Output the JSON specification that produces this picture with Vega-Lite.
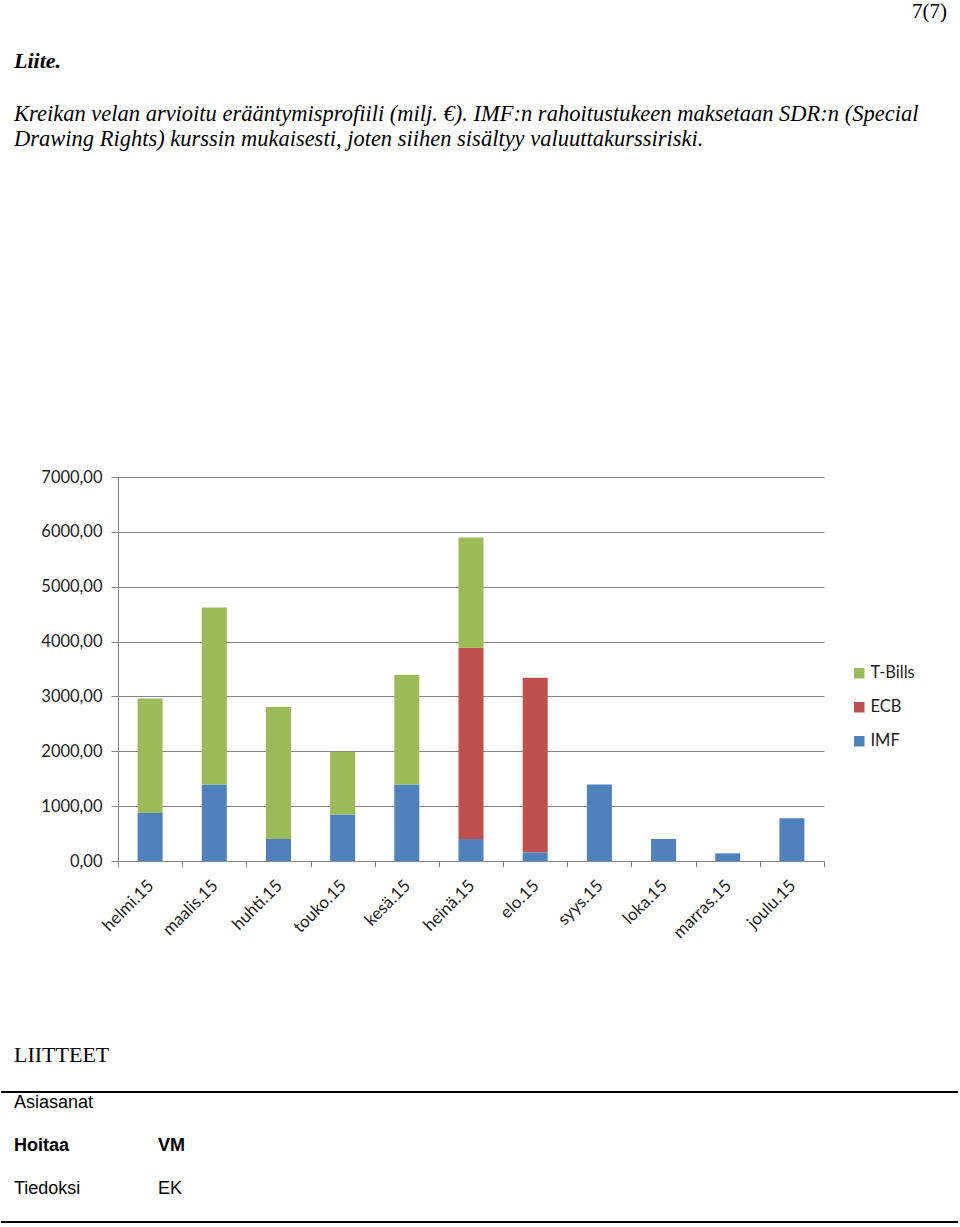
{
  "$schema": "https://vega.github.io/schema/vega-lite/v6.json",
  "padding": 0,
  "background": "white",
  "title": {"text": "7(7)", "anchor": "end", "frame": "bounds", "font": "Liberation Serif", "fontSize": 21, "fontWeight": "normal", "color": "black", "offset": 28, "dx": -12},
  "datasets": {
    "debt": [
      {"month": "helmi.15", "source": "IMF", "amount": 876},
      {"month": "helmi.15", "source": "T-Bills", "amount": 2088},
      {"month": "maalis.15", "source": "IMF", "amount": 1394},
      {"month": "maalis.15", "source": "T-Bills", "amount": 3226},
      {"month": "huhti.15", "source": "IMF", "amount": 402},
      {"month": "huhti.15", "source": "T-Bills", "amount": 2404},
      {"month": "touko.15", "source": "IMF", "amount": 846},
      {"month": "touko.15", "source": "T-Bills", "amount": 1144},
      {"month": "kesä.15", "source": "IMF", "amount": 1394},
      {"month": "kesä.15", "source": "T-Bills", "amount": 1996},
      {"month": "heinä.15", "source": "IMF", "amount": 402},
      {"month": "heinä.15", "source": "ECB", "amount": 3487},
      {"month": "heinä.15", "source": "T-Bills", "amount": 2009},
      {"month": "elo.15", "source": "IMF", "amount": 158},
      {"month": "elo.15", "source": "ECB", "amount": 3183},
      {"month": "syys.15", "source": "IMF", "amount": 1394},
      {"month": "loka.15", "source": "IMF", "amount": 402},
      {"month": "marras.15", "source": "IMF", "amount": 140},
      {"month": "joulu.15", "source": "IMF", "amount": 779}
    ],
    "footer": [
      {"row": "Asiasanat", "col": "label", "text": "Asiasanat"},
      {"row": "Hoitaa", "col": "label", "text": "Hoitaa"},
      {"row": "Hoitaa", "col": "value", "text": "VM"},
      {"row": "Tiedoksi", "col": "label", "text": "Tiedoksi"},
      {"row": "Tiedoksi", "col": "value", "text": "EK"}
    ],
    "lines": [
      {"line": "top"},
      {"line": "bottom"}
    ]
  },
  "spacing": 103,
  "vconcat": [
    {
      "width": 706,
      "height": 384,
      "title": {
        "text": "Liite.",
        "subtitle": [
          "Kreikan velan arvioitu erääntymisprofiili (milj. €). IMF:n rahoitustukeen maksetaan SDR:n (Special",
          "Drawing Rights) kurssin mukaisesti, joten siihen sisältyy valuuttakurssiriski."
        ],
        "anchor": "start",
        "frame": "group",
        "dx": -104,
        "font": "Liberation Serif",
        "fontSize": 22,
        "fontStyle": "italic",
        "fontWeight": "bold",
        "color": "black",
        "subtitleFont": "Liberation Serif",
        "subtitleFontSize": 22.5,
        "subtitleFontStyle": "italic",
        "subtitleFontWeight": "normal",
        "subtitleColor": "black",
        "subtitlePadding": 30,
        "subtitleLineHeight": 25,
        "offset": 318
      },
      "data": {"name": "debt"},
      "transform": [
        {"calculate": "indexof(['IMF','ECB','T-Bills'], datum.source)", "as": "stackOrder"}
      ],
      "mark": {"type": "bar", "width": {"band": 0.39}},
      "encoding": {
        "x": {
          "field": "month",
          "type": "nominal",
          "sort": null,
          "scale": {"paddingInner": 0, "paddingOuter": 0},
          "axis": {
            "title": null,
            "labelAngle": -45,
            "labelFont": "Lato",
            "labelFontSize": 17,
            "labelColor": "#222",
            "labelPadding": 10,
            "labelOffset": -5,
            "tickBand": "extent",
            "tickSize": 6,
            "tickColor": "#868686",
            "domainColor": "#868686",
            "grid": false
          }
        },
        "y": {
          "field": "amount",
          "type": "quantitative",
          "stack": "zero",
          "scale": {"domain": [0, 7000], "nice": false},
          "axis": {
            "title": null,
            "values": [0, 1000, 2000, 3000, 4000, 5000, 6000, 7000],
            "labelExpr": "replace(format(datum.value, '.2f'), '.', ',')",
            "labelFont": "Lato",
            "labelFontSize": 16.5,
            "labelColor": "#222",
            "labelPadding": 9,
            "tickSize": 7,
            "tickColor": "#868686",
            "domainColor": "#868686",
            "gridColor": "#868686",
            "gridOpacity": 1,
            "minExtent": 117
          }
        },
        "color": {
          "field": "source",
          "type": "nominal",
          "scale": {"domain": ["T-Bills", "ECB", "IMF"], "range": ["#9BBB59", "#C0504D", "#4F81BD"]},
          "legend": {
            "orient": "none",
            "legendX": 733,
            "legendY": 188,
            "title": null,
            "symbolType": "square",
            "symbolSize": 110,
            "symbolStrokeWidth": 0,
            "labelFont": "Lato",
            "labelFontSize": 16.5,
            "labelColor": "#222",
            "rowPadding": 17,
            "labelOffset": 3
          }
        },
        "order": {"field": "stackOrder", "type": "quantitative"}
      }
    },
    {
      "width": 840,
      "height": 130,
      "title": {
        "text": "LIITTEET",
        "anchor": "start",
        "frame": "group",
        "dx": -104,
        "font": "Liberation Serif",
        "fontSize": 22,
        "fontWeight": "normal",
        "color": "black",
        "offset": 24
      },
      "layer": [
        {
          "data": {"name": "footer"},
          "transform": [{"filter": "datum.row !== 'Hoitaa'"}],
          "mark": {"type": "text", "align": "left", "baseline": "middle", "font": "Liberation Sans", "fontSize": 18, "color": "black"},
          "encoding": {
            "x": {"field": "col", "type": "nominal", "scale": {"type": "point", "domain": ["label", "value"], "range": [-104, 40], "padding": 0}, "axis": null},
            "y": {"field": "row", "type": "nominal", "scale": {"type": "point", "domain": ["Asiasanat", "Hoitaa", "Tiedoksi"], "range": [11, 97], "padding": 0}, "axis": null},
            "text": {"field": "text"}
          }
        },
        {
          "data": {"name": "footer"},
          "transform": [{"filter": "datum.row === 'Hoitaa'"}],
          "mark": {"type": "text", "align": "left", "baseline": "middle", "font": "Liberation Sans", "fontSize": 18, "fontWeight": "bold", "color": "black"},
          "encoding": {
            "x": {"field": "col", "type": "nominal", "scale": {"type": "point", "domain": ["label", "value"], "range": [-104, 40], "padding": 0}, "axis": null},
            "y": {"field": "row", "type": "nominal", "scale": {"type": "point", "domain": ["Asiasanat", "Hoitaa", "Tiedoksi"], "range": [11, 97], "padding": 0}, "axis": null},
            "text": {"field": "text"}
          }
        },
        {
          "data": {"name": "lines"},
          "mark": {"type": "rule", "color": "black", "strokeWidth": 2},
          "encoding": {
            "y": {"field": "line", "type": "nominal", "scale": {"type": "point", "domain": ["top", "bottom"], "padding": 0}, "axis": null},
            "x": {"datum": 0, "type": "quantitative", "scale": {"domain": [0, 1], "range": [-117, 840]}, "axis": null},
            "x2": {"datum": 1}
          }
        }
      ],
      "resolve": {"scale": {"y": "independent", "x": "independent"}}
    }
  ],
  "config": {
    "view": {"stroke": null},
    "font": "Lato"
  }
}
